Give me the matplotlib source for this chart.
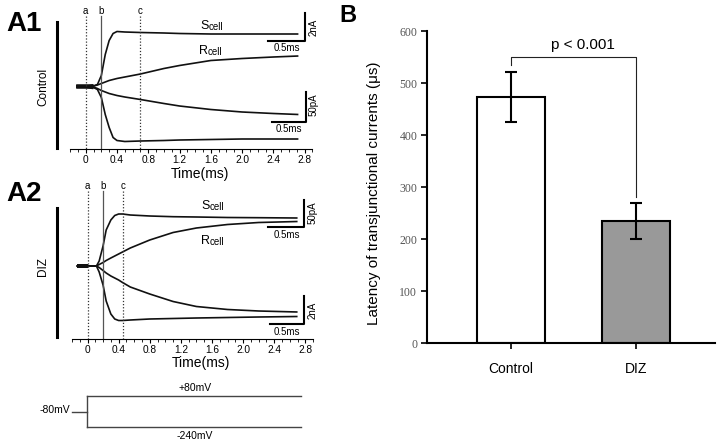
import numpy as np
import matplotlib
matplotlib.use("Agg")
import matplotlib.pyplot as plt
from matplotlib.lines import Line2D

plt.rcParams['font.family'] = ['Liberation Sans', 'DejaVu Sans']

W, H = 719, 445

# ---- A1 (control) traces, time in ms, current in arbitrary units (baseline = 0)
a1_t = [-0.12, 0.0, 0.1, 0.15, 0.2, 0.25, 0.3, 0.35, 0.4, 0.5, 0.7, 1.0, 1.2, 1.6, 2.0, 2.4, 2.72]
a1_s_up = [0, 0, 0.5, 2, 11, 32, 46, 53, 55, 54.5, 54, 53.5, 53, 52.5, 52.5, 52.5, 52.5]
a1_r_up = [0, 0, 0.5, 1.5, 3, 4.5, 6, 7, 8, 9.5, 12.5, 18, 21, 26, 28, 29.5, 30.5]
a1_r_dn = [0, 0, -0.5, -2, -4, -5.5, -7, -8, -9, -10.5, -13, -17, -19.5, -23, -25.5, -27, -28]
a1_s_dn = [0, 0, -1, -3, -11, -28, -41, -51, -54, -55, -54.5, -54, -53.5, -53, -52.5, -52.5, -52.5]
a1_marks = [0.0, 0.2, 0.7]

# ---- A2 (DIZ) traces
a2_t = [-0.14, 0.0, 0.115, 0.15, 0.2, 0.24, 0.3, 0.35, 0.4, 0.45, 0.55, 0.8, 1.1, 1.4, 1.8, 2.2, 2.7]
a2_s_up = [0, 0, 0, 5, 20, 36, 46, 50.5, 52, 52, 51, 50, 49.3, 49, 48.5, 48.3, 48]
a2_r_up = [0, 0, 0, 1.5, 3.5, 5.5, 8, 10, 12, 14, 18, 26, 33.5, 38, 41.5, 43.5, 44.5]
a2_r_dn = [0, 0, 0, -1.5, -4.5, -7, -10, -12, -14, -16.5, -21, -28, -35.5, -40.5, -43.5, -45, -46]
a2_s_dn = [0, 0, 0, -6, -19, -35, -48, -53, -54.5, -54.5, -54, -53, -52.5, -52, -51.5, -51, -50.5]
a2_marks = [0.0, 0.2, 0.46]

mark_names = ['a', 'b', 'c']
time_ticks = [0, 0.4, 0.8, 1.2, 1.6, 2.0, 2.4, 2.8]
time_labels = ['0', '0.4', '0.8', '1.2', '1.6', '2.0', '2.4', '2.8']

# ---- voltage protocol
hold_mv = -80
step_mv = [80, -240]
step_t = [-0.19, 0.0, 2.74]

# ---- B: latency
groups = ['Control', 'DIZ']
latency = [473, 235]
latency_err = [48, 35]
bar_colors = ['white', '#999999']


def box(l, t, r, b):
    return [l / W, 1 - b / H, (r - l) / W, (b - t) / H]


def fpx(x, y):
    return x / W, 1 - y / H


fig = plt.figure(figsize=(W / 100, H / 100), dpi=100)


def trace_panel(t, traces, marks, x0, base, axis_y, top_y, px_per_ms=78.2):
    ax = fig.add_axes(box(40, top_y, 320, axis_y))
    ax.set_xlim((40 - x0) / px_per_ms, (320 - x0) / px_per_ms)
    ax.set_ylim(base - axis_y, base - top_y)
    ax.patch.set_visible(False)
    for s in ['top', 'right', 'left']:
        ax.spines[s].set_visible(False)
    ax.spines['bottom'].set_bounds(-0.2, 2.9)
    ax.spines['bottom'].set_linewidth(0.8)
    ax.set_yticks([])
    ax.set_xticks(time_ticks)
    ax.set_xticklabels(time_labels, fontsize=7.3)
    ax.set_xticks(np.arange(-0.2, 2.91, 0.1), minor=True)
    ax.tick_params(axis='x', which='major', length=3, width=0.8, pad=1.5)
    ax.tick_params(axis='x', which='minor', length=2, width=0.6)

    t = np.array(t)
    pre = t <= 0.1
    for y in traces:
        y = np.array(y)
        ax.plot(t, y, color='#111111', lw=1.2, solid_capstyle='butt')
        ax.plot(t[pre], y[pre], color='#111111', lw=2.6, solid_capstyle='butt')

    ytop = base - top_y
    for m, name in zip(marks, mark_names):
        if name == 'b':
            ax.plot([m, m], [ytop - 11, base - axis_y], color='#555555', lw=0.9)
        else:
            ax.plot([m, m], [ytop - 11, base - axis_y], color='#333333', lw=0.9,
                    linestyle=(0, (1, 1.5)))
        ax.text(m, ytop - 6, name, ha='center', va='center', fontsize=7)
    return ax


def scale_bar(x_left, x_right, y_top, y_bot):
    fig.add_artist(Line2D([x_left / W, x_right / W, x_right / W],
                          [1 - y_bot / H, 1 - y_bot / H, 1 - y_top / H],
                          color='black', lw=1.5))


def cell_label(x, y_base, letter):
    t = fig.text(*fpx(x, y_base), letter, fontsize=9, va='baseline', ha='left')
    plt.annotate('cell', xy=(1, 0), xycoords=t, fontsize=7, va='bottom', ha='left',
                 annotation_clip=False)


# ---------------- A1
ax1 = trace_panel(a1_t, [a1_s_up, a1_r_up, a1_r_dn, a1_s_dn], a1_marks,
                  x0=85.7, base=86.5, axis_y=149, top_y=5)
fig.text(*fpx(200, 174), 'Time(ms)', fontsize=10, ha='center', va='center')
fig.text(*fpx(6, 24), 'A1', fontsize=20, fontweight='bold', ha='left', va='center')
fig.add_artist(Line2D([57 / W, 57 / W], [1 - 22 / H, 1 - 148 / H], color='black', lw=2.2))
fig.text(*fpx(43, 87), 'Control', rotation=90, fontsize=8.5, ha='center', va='center')
cell_label(200, 29, 'S')
cell_label(199, 54, 'R')
scale_bar(268, 305, 13, 41)
fig.text(*fpx(314, 27), '2nA', rotation=90, fontsize=7, ha='center', va='center')
fig.text(*fpx(287, 48), '0.5ms', fontsize=7, ha='center', va='center')
scale_bar(272, 306, 92, 122)
fig.text(*fpx(314, 105), '50pA', rotation=90, fontsize=7, ha='center', va='center')
fig.text(*fpx(289, 129), '0.5ms', fontsize=7, ha='center', va='center')

# ---------------- A2
ax2 = trace_panel(a2_t, [a2_s_up, a2_r_up, a2_r_dn, a2_s_dn], a2_marks,
                  x0=87.5, base=266, axis_y=339, top_y=180, px_per_ms=77.8)
fig.text(*fpx(201, 363), 'Time(ms)', fontsize=10, ha='center', va='center')
fig.text(*fpx(6, 194), 'A2', fontsize=20, fontweight='bold', ha='left', va='center')
fig.add_artist(Line2D([57 / W, 57 / W], [1 - 208 / H, 1 - 337 / H], color='black', lw=2.2))
fig.text(*fpx(43, 267), 'DIZ', rotation=90, fontsize=8.5, ha='center', va='center')
cell_label(201, 209, 'S')
cell_label(201, 244, 'R')
scale_bar(268, 304, 200, 227)
fig.text(*fpx(313, 213), '50pA', rotation=90, fontsize=7, ha='center', va='center')
fig.text(*fpx(287, 235), '0.5ms', fontsize=7, ha='center', va='center')
scale_bar(270, 304, 296, 324)
fig.text(*fpx(313, 310), '2nA', rotation=90, fontsize=7, ha='center', va='center')
fig.text(*fpx(287, 332), '0.5ms', fontsize=7, ha='center', va='center')

# ---------------- voltage protocol
axp = fig.add_axes(box(40, 375, 320, 445))
mv_px = 31 / 320.0
axp.set_xlim((40 - 87) / 78.2, (320 - 87) / 78.2)
axp.set_ylim(hold_mv - (445 - 411.5) / mv_px, hold_mv + (411.5 - 375) / mv_px)
axp.axis('off')
pc = '#444444'
axp.plot(step_t[:2], [hold_mv, hold_mv], color=pc, lw=1.0)
axp.plot([step_t[1], step_t[1]], [min(step_mv), max(step_mv)], color=pc, lw=1.0)
for v in step_mv:
    axp.plot(step_t[1:], [v, v], color=pc, lw=1.0)
fig.text(*fpx(195, 388), '+80mV', fontsize=7.5, ha='center', va='center')
fig.text(*fpx(195, 436), '-240mV', fontsize=7.5, ha='center', va='center')
fig.text(*fpx(70, 410), '-80mV', fontsize=7.5, ha='right', va='center')

# ---------------- B
axb = fig.add_axes(box(427, 31, 715, 343))
x = np.arange(len(groups))
axb.bar(x, latency, width=0.55, color=bar_colors, edgecolor='black', linewidth=1.5, zorder=2)
axb.errorbar(x, latency, yerr=latency_err, fmt='none', ecolor='black', elinewidth=1.5,
             capsize=4, capthick=1.5, zorder=3)
axb.set_xlim(-0.672, 1.632)
axb.set_ylim(0, 600)
axb.set_yticks(np.arange(0, 601, 100))
axb.set_xticks(x)
axb.set_xticklabels(groups, fontsize=10)
for lab in axb.get_yticklabels():
    lab.set_family('Liberation Serif')
    lab.set_fontsize(8.5)
    lab.set_color('#555555')
axb.tick_params(axis='y', length=4, width=1.2, pad=3)
axb.tick_params(axis='x', length=4, width=1.2, pad=10)
for s in ['top', 'right']:
    axb.spines[s].set_visible(False)
for s in ['left', 'bottom']:
    axb.spines[s].set_linewidth(1.5)
axb.plot([0, 0, 1, 1], [535, 550, 550, 281], color='#222222', lw=0.8)
axb.text(0.572, 573, 'p < 0.001', fontsize=11, ha='center', va='center')
fig.text(*fpx(374, 193), 'Latency of transjunctional currents (\u03bcs)', rotation=90,
         fontsize=11, ha='center', va='center')
fig.text(*fpx(339, 16), 'B', fontsize=17, fontweight='bold', ha='left', va='center')

fig.savefig('out.png', dpi=100)
